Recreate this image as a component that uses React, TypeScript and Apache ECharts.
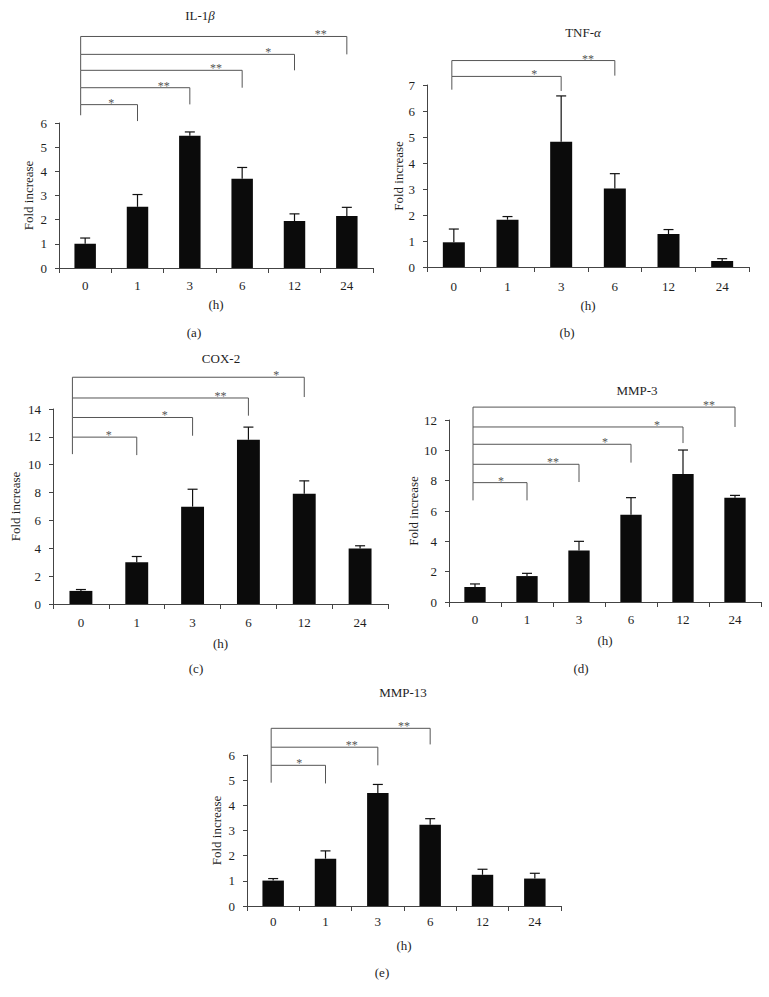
import React, { useEffect, useRef } from "react";
import * as echarts from "echarts";

// ---------- data ----------
const hours = ["0", "1", "3", "6", "12", "24"];

const il1bMean = [1.0, 2.53, 5.47, 3.69, 1.94, 2.15];
const il1bSd = [0.24, 0.51, 0.16, 0.47, 0.3, 0.36];
const tnfMean = [0.95, 1.82, 4.82, 3.02, 1.27, 0.23];
const tnfSd = [0.51, 0.12, 1.76, 0.57, 0.17, 0.09];
const cox2Mean = [0.94, 3.0, 6.99, 11.79, 7.92, 3.99];
const cox2Sd = [0.1, 0.41, 1.25, 0.91, 0.92, 0.19];
const mmp3Mean = [0.99, 1.71, 3.39, 5.76, 8.44, 6.88];
const mmp3Sd = [0.2, 0.18, 0.61, 1.12, 1.58, 0.15];
const mmp13Mean = [1.01, 1.88, 4.49, 3.23, 1.24, 1.09];
const mmp13Sd = [0.08, 0.31, 0.34, 0.24, 0.22, 0.21];

// significance brackets: target category index, stars, bracket level, right drop end (axis units)
const il1bSigTarget = [1, 2, 3, 4, 5];
const il1bSigStars = [1, 2, 2, 1, 2];
const il1bSigLevel = [6.76, 7.46, 8.18, 8.84, 9.58];
const il1bSigDrop = [6.08, 6.77, 7.46, 8.18, 8.84];
const il1bSigBase = 6.32;

const tnfSigTarget = [2, 3];
const tnfSigStars = [1, 2];
const tnfSigLevel = [7.33, 7.94];
const tnfSigDrop = [6.77, 7.36];
const tnfSigBase = 6.82;

const cox2SigTarget = [1, 2, 3, 4];
const cox2SigStars = [1, 1, 2, 1];
const cox2SigLevel = [11.98, 13.39, 14.79, 16.28];
const cox2SigDrop = [10.69, 12.08, 13.52, 14.86];
const cox2SigBase = 10.76;

const mmp3SigTarget = [1, 2, 3, 4, 5];
const mmp3SigStars = [1, 2, 1, 1, 2];
const mmp3SigLevel = [7.87, 9.08, 10.4, 11.54, 12.85];
const mmp3SigDrop = [6.7, 7.91, 9.19, 10.48, 11.54];
const mmp3SigBase = 6.7;

const mmp13SigTarget = [1, 2, 3];
const mmp13SigStars = [1, 2, 2];
const mmp13SigLevel = [5.59, 6.31, 7.06];
const mmp13SigDrop = [4.87, 5.59, 6.42];
const mmp13SigBase = 4.9;

const yMaxes = [6, 7, 14, 12, 6];
const yIntervals = [1, 1, 2, 2, 1];
const xAxisName = "(h)";
const yAxisName = "Fold increase";

// ---------- layout / style ----------
const FONT = "'Liberation Serif', 'Times New Roman', serif";
const TEXT = "#1e1e1e";
const AXIS = "#444";
const BRACKET = "#555";

type Panel = {
  titleMain: string;
  titleGreek: string;
  sub: string;
  mean: number[];
  sd: number[];
  sigT: number[];
  sigS: number[];
  sigL: number[];
  sigD: number[];
  sigB: number;
  grid: { left: number; top: number; width: number; height: number };
  leftShift: number;
  yNameGap: number;
  xNameGap: number;
  labelMargin: number;
  titlePos: [number, number];
  subPos: [number, number];
};

const panels: Panel[] = [
  {
    titleMain: "IL-1", titleGreek: "β", sub: "(a)",
    mean: il1bMean, sd: il1bSd,
    sigT: il1bSigTarget, sigS: il1bSigStars, sigL: il1bSigLevel, sigD: il1bSigDrop, sigB: il1bSigBase,
    grid: { left: 59, top: 123, width: 314, height: 145 },
    leftShift: -4.5, yNameGap: 31, xNameGap: 36, labelMargin: 11,
    titlePos: [200, 15], subPos: [194, 332],
  },
  {
    titleMain: "TNF-", titleGreek: "α", sub: "(b)",
    mean: tnfMean, sd: tnfSd,
    sigT: tnfSigTarget, sigS: tnfSigStars, sigL: tnfSigLevel, sigD: tnfSigDrop, sigB: tnfSigBase,
    grid: { left: 427, top: 85, width: 322, height: 182 },
    leftShift: -2, yNameGap: 27, xNameGap: 38, labelMargin: 13,
    titlePos: [583, 32], subPos: [567, 332],
  },
  {
    titleMain: "COX-2", titleGreek: "", sub: "(c)",
    mean: cox2Mean, sd: cox2Sd,
    sigT: cox2SigTarget, sigS: cox2SigStars, sigL: cox2SigLevel, sigD: cox2SigDrop, sigB: cox2SigBase,
    grid: { left: 53, top: 409, width: 335, height: 195 },
    leftShift: -8.5, yNameGap: 38, xNameGap: 39, labelMargin: 12,
    titlePos: [221, 358], subPos: [196, 668],
  },
  {
    titleMain: "MMP-3", titleGreek: "", sub: "(d)",
    mean: mmp3Mean, sd: mmp3Sd,
    sigT: mmp3SigTarget, sigS: mmp3SigStars, sigL: mmp3SigLevel, sigD: mmp3SigDrop, sigB: mmp3SigBase,
    grid: { left: 449, top: 420, width: 312, height: 182 },
    leftShift: -2, yNameGap: 35, xNameGap: 38, labelMargin: 11,
    titlePos: [637, 390], subPos: [581, 668],
  },
  {
    titleMain: "MMP-13", titleGreek: "", sub: "(e)",
    mean: mmp13Mean, sd: mmp13Sd,
    sigT: mmp13SigTarget, sigS: mmp13SigStars, sigL: mmp13SigLevel, sigD: mmp13SigDrop, sigB: mmp13SigBase,
    grid: { left: 247, top: 755, width: 314, height: 151 },
    leftShift: -2, yNameGap: 31, xNameGap: 39, labelMargin: 9,
    titlePos: [403, 692], subPos: [382, 972],
  },
];

function buildOption() {
  const grid: any[] = [];
  const xAxis: any[] = [];
  const yAxis: any[] = [];
  const series: any[] = [];
  const graphic: any[] = [];

  panels.forEach((p, k) => {
    grid.push({ ...p.grid, containLabel: false });
    xAxis.push({
      type: "category",
      gridIndex: k,
      data: hours,
      boundaryGap: true,
      name: xAxisName,
      nameLocation: "middle",
      nameGap: p.xNameGap,
      nameTextStyle: { fontFamily: FONT, fontSize: 13, color: TEXT, verticalAlign: "middle" },
      axisLine: { show: true, lineStyle: { color: AXIS, width: 1 } },
      axisTick: { show: true, alignWithLabel: false, length: 5, lineStyle: { color: AXIS } },
      axisLabel: { fontFamily: FONT, fontSize: 13, color: TEXT, margin: p.labelMargin },
      splitLine: { show: false },
    });
    yAxis.push({
      type: "value",
      gridIndex: k,
      min: 0,
      max: yMaxes[k],
      interval: yIntervals[k],
      name: yAxisName,
      nameLocation: "middle",
      nameGap: p.yNameGap,
      nameTextStyle: { fontFamily: FONT, fontSize: 13, color: TEXT, verticalAlign: "middle" },
      axisLine: { show: true, lineStyle: { color: AXIS, width: 1 } },
      axisTick: { show: true, length: 4, lineStyle: { color: AXIS } },
      axisLabel: { fontFamily: FONT, fontSize: 13, color: TEXT, margin: 12 },
      splitLine: { show: false },
    });

    series.push({
      type: "bar",
      xAxisIndex: k,
      yAxisIndex: k,
      data: p.mean,
      barWidth: "41%",
      itemStyle: { color: "#0b0b0b" },
      z: 2,
    });

    series.push({
      type: "custom",
      xAxisIndex: k,
      yAxisIndex: k,
      clip: false,
      z: 3,
      itemStyle: { color: "#111" },
      data: p.mean.map((m, i) => [i, m, m + p.sd[i]]),
      encode: { x: 0, y: [1, 2] },
      renderItem: (_params: any, api: any) => {
        const i = api.value(0);
        const p0 = api.coord([i, api.value(1)]);
        const p1 = api.coord([i, api.value(2)]);
        const st = { stroke: "#111", lineWidth: 1.2 };
        return {
          type: "group",
          children: [
            { type: "line", shape: { x1: p0[0], y1: p0[1], x2: p1[0], y2: p1[1] }, style: st },
            { type: "line", shape: { x1: p1[0] - 5, y1: p1[1], x2: p1[0] + 5, y2: p1[1] }, style: st },
          ],
        };
      },
    });

    const shift = p.leftShift;
    series.push({
      type: "custom",
      xAxisIndex: k,
      yAxisIndex: k,
      clip: false,
      z: 4,
      itemStyle: { color: BRACKET },
      data: p.sigT.map((t, j) => [t, p.sigL[j], p.sigD[j], j === 0 ? p.sigB : p.sigL[j - 1], p.sigS[j]]),
      encode: { x: 0, y: [1, 2, 3] },
      renderItem: (_params: any, api: any) => {
        const t = api.value(0);
        const level = api.value(1);
        const drop = api.value(2);
        const from = api.value(3);
        const n = api.value(4);
        const l0 = api.coord([0, from]);
        const l1 = api.coord([0, level]);
        const r1 = api.coord([t, level]);
        const r2 = api.coord([t, drop]);
        const prev = api.coord([t - 1, level]);
        const lx = l0[0] + shift;
        const sx = (prev[0] + r1[0]) / 2;
        return {
          type: "group",
          children: [
            {
              type: "polyline",
              shape: { points: [[lx, l0[1]], [lx, l1[1]], [r1[0], r1[1]], [r2[0], r2[1]]] },
              style: { stroke: BRACKET, lineWidth: 1, fill: null },
            },
            {
              type: "text",
              x: sx,
              y: l1[1] - 2,
              style: {
                text: "*".repeat(n),
                fill: BRACKET,
                fontFamily: FONT,
                fontSize: 12,
                align: "center",
                verticalAlign: "middle",
              },
            },
          ],
        };
      },
    });

    graphic.push({
      type: "text",
      x: p.titlePos[0],
      y: p.titlePos[1],
      style: {
        text: p.titleGreek ? `${p.titleMain}{g|${p.titleGreek}}` : p.titleMain,
        fontFamily: FONT,
        fontSize: 13,
        fill: TEXT,
        align: "center",
        verticalAlign: "middle",
        rich: { g: { fontFamily: FONT, fontSize: 13, fontStyle: "italic", fill: TEXT } },
      },
    });
    graphic.push({
      type: "text",
      x: p.subPos[0],
      y: p.subPos[1],
      style: {
        text: p.sub,
        fontFamily: FONT,
        fontSize: 13,
        fill: TEXT,
        align: "center",
        verticalAlign: "middle",
      },
    });
  });

  return {
    animation: false,
    backgroundColor: "#ffffff",
    color: [BRACKET],
    grid,
    xAxis,
    yAxis,
    series,
    graphic,
  };
}

export default function App() {
  const ref = useRef<HTMLDivElement>(null);
  useEffect(() => {
    if (!ref.current) return;
    const chart = echarts.init(ref.current, undefined, { renderer: "svg" });
    chart.setOption(buildOption() as any);
    return () => chart.dispose();
  }, []);
  return (
    <div
      ref={ref}
      style={{ position: "absolute", left: 0, top: 0, width: 769, height: 997, background: "#fff" }}
    />
  );
}
